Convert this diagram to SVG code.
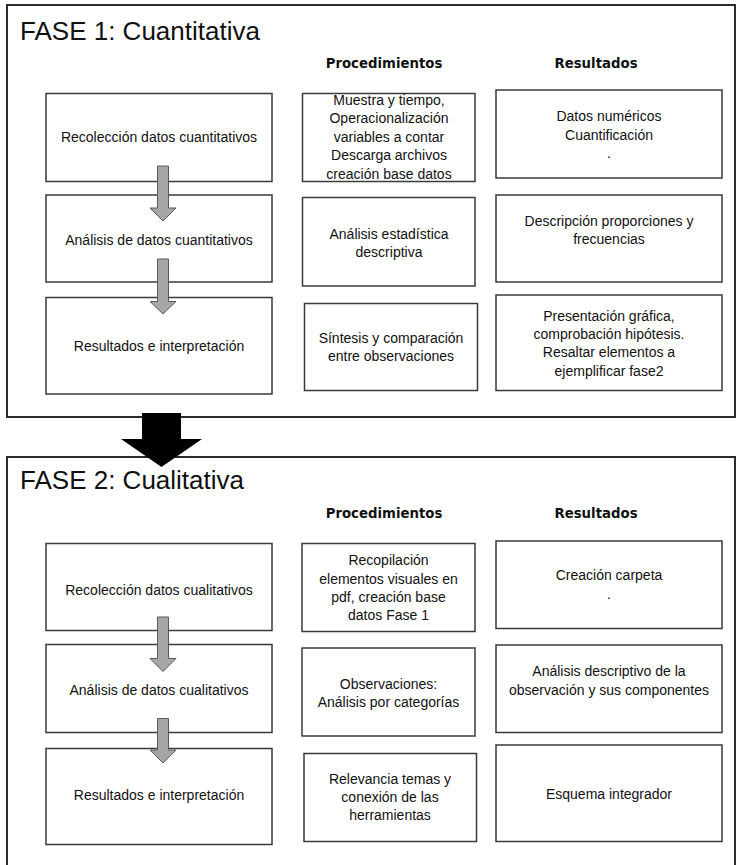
<svg xmlns="http://www.w3.org/2000/svg" width="737" height="865" viewBox="0 0 737 865">
<style>
.frame{fill:none;stroke:#2b2b2b;stroke-width:2}
.box{fill:#fff;stroke:#3a3a3a;stroke-width:1.5}
.t{font-family:"Liberation Sans",Arial,sans-serif;font-size:14px;fill:#111;text-anchor:middle}
.title{font-family:"Liberation Sans",Arial,sans-serif;font-size:26px;fill:#111}
.hdr{font-family:"DejaVu Sans",Verdana,sans-serif;font-weight:bold;font-size:13.3px;fill:#111;text-anchor:middle}
.garrow{fill:#a6a6a6;stroke:#5a5a5a;stroke-width:1}
.barrow{fill:#000}
</style>
<rect width="737" height="865" fill="#fff"/>

<g id="fase1">
<rect class="frame" x="7" y="5" width="728" height="412"/>
<text class="title" x="20" y="40">FASE 1: Cuantitativa</text>
<text class="hdr" x="384" y="68">Procedimientos</text>
<text class="hdr" x="596" y="68">Resultados</text>
</g>

<g id="f1-rec">
<rect class="box" x="46" y="93.5" width="226" height="88"/>
<text class="t" x="159" y="142">Recolección datos cuantitativos</text>
</g>
<g id="f1-ana">
<rect class="box" x="46" y="195" width="226" height="87"/>
<text class="t" x="159" y="244.5">Análisis de datos cuantitativos</text>
</g>
<g id="f1-res">
<rect class="box" x="46" y="297.5" width="226" height="96.5"/>
<text class="t" x="159" y="351">Resultados e interpretación</text>
</g>
<g id="f1-procA">
<rect class="box" x="302.5" y="93.5" width="172.5" height="88"/>
<text class="t" x="389" y="104.5">Muestra y tiempo,</text>
<text class="t" x="389" y="123">Operacionalización</text>
<text class="t" x="389" y="141.5">variables a contar</text>
<text class="t" x="389" y="160">Descarga archivos</text>
<text class="t" x="389" y="178.5">creación base datos</text>
</g>
<g id="f1-procB">
<rect class="box" x="302.5" y="197.5" width="172.5" height="88.5"/>
<text class="t" x="389" y="238.5">Análisis estadística</text>
<text class="t" x="389" y="256.5">descriptiva</text>
</g>
<g id="f1-procC">
<rect class="box" x="304.5" y="303.5" width="173" height="87"/>
<text class="t" x="391" y="343">Síntesis y comparación</text>
<text class="t" x="391" y="361">entre observaciones</text>
</g>
<g id="f1-resA">
<rect class="box" x="496" y="90" width="226" height="88"/>
<text class="t" x="609" y="121">Datos numéricos</text>
<text class="t" x="609" y="139.5">Cuantificación</text>
<text class="t" x="609" y="158">.</text>
</g>
<g id="f1-resB">
<rect class="box" x="496" y="195" width="226" height="87"/>
<text class="t" x="609" y="226">Descripción proporciones y</text>
<text class="t" x="609" y="244">frecuencias</text>
</g>
<g id="f1-resC">
<rect class="box" x="496" y="295" width="226" height="95.5"/>
<text class="t" x="609" y="320.5">Presentación gráfica,</text>
<text class="t" x="609" y="339">comprobación hipótesis.</text>
<text class="t" x="609" y="357">Resaltar elementos a</text>
<text class="t" x="609" y="375.5">ejemplificar fase2</text>
</g>

<g id="fase2">
<rect class="frame" x="7" y="457" width="728" height="420"/>
<text class="title" x="20" y="489">FASE 2: Cualitativa</text>
<text class="hdr" x="384" y="518">Procedimientos</text>
<text class="hdr" x="596" y="518">Resultados</text>
</g>

<g id="f2-rec">
<rect class="box" x="46" y="543.5" width="226" height="87"/>
<text class="t" x="159" y="594.5">Recolección datos cualitativos</text>
</g>
<g id="f2-ana">
<rect class="box" x="46" y="644.5" width="226" height="88"/>
<text class="t" x="159" y="694.5">Análisis de datos cualitativos</text>
</g>
<g id="f2-res">
<rect class="box" x="46" y="748.5" width="226" height="96"/>
<text class="t" x="159" y="799.5">Resultados e interpretación</text>
</g>
<g id="f2-procA">
<rect class="box" x="302" y="543.5" width="173" height="88"/>
<text class="t" x="388.5" y="565">Recopilación</text>
<text class="t" x="388.5" y="583.5">elementos visuales en</text>
<text class="t" x="388.5" y="602">pdf, creación base</text>
<text class="t" x="388.5" y="620">datos Fase 1</text>
</g>
<g id="f2-procB">
<rect class="box" x="302" y="648" width="173" height="88"/>
<text class="t" x="388.5" y="688.5">Observaciones:</text>
<text class="t" x="388.5" y="707">Análisis por categorías</text>
</g>
<g id="f2-procC">
<rect class="box" x="304" y="753.5" width="172.5" height="88"/>
<text class="t" x="390" y="784">Relevancia temas y</text>
<text class="t" x="390" y="802">conexión de las</text>
<text class="t" x="390" y="820">herramientas</text>
</g>
<g id="f2-resA">
<rect class="box" x="496" y="541" width="226" height="87.5"/>
<text class="t" x="609" y="580">Creación carpeta</text>
<text class="t" x="609" y="598.5">.</text>
</g>
<g id="f2-resB">
<rect class="box" x="496" y="645" width="226" height="87.5"/>
<text class="t" x="609" y="676">Análisis descriptivo de la</text>
<text class="t" x="609" y="694.5">observación y sus componentes</text>
</g>
<g id="f2-resC">
<rect class="box" x="496" y="745" width="226" height="96.5"/>
<text class="t" x="609" y="798.5">Esquema integrador</text>
</g>

<g id="connectors">
<path class="garrow" d="M157.5,166 H168.5 V208 H176 L163,221 L150,208 H157.5 Z"/>
<path class="garrow" d="M157.5,259 H168.5 V301.5 H176 L163,314 L150,301.5 H157.5 Z"/>
<path class="barrow" d="M142,413 H181 V439 H202 L161.5,467 L121,439 H142 Z"/>
<path class="garrow" d="M157.5,617 H168.5 V658.5 H176 L163,671.5 L150,658.5 H157.5 Z"/>
<path class="garrow" d="M157.5,718.5 H168.5 V750 H176 L163,763 L150,750 H157.5 Z"/>
</g>
</svg>
